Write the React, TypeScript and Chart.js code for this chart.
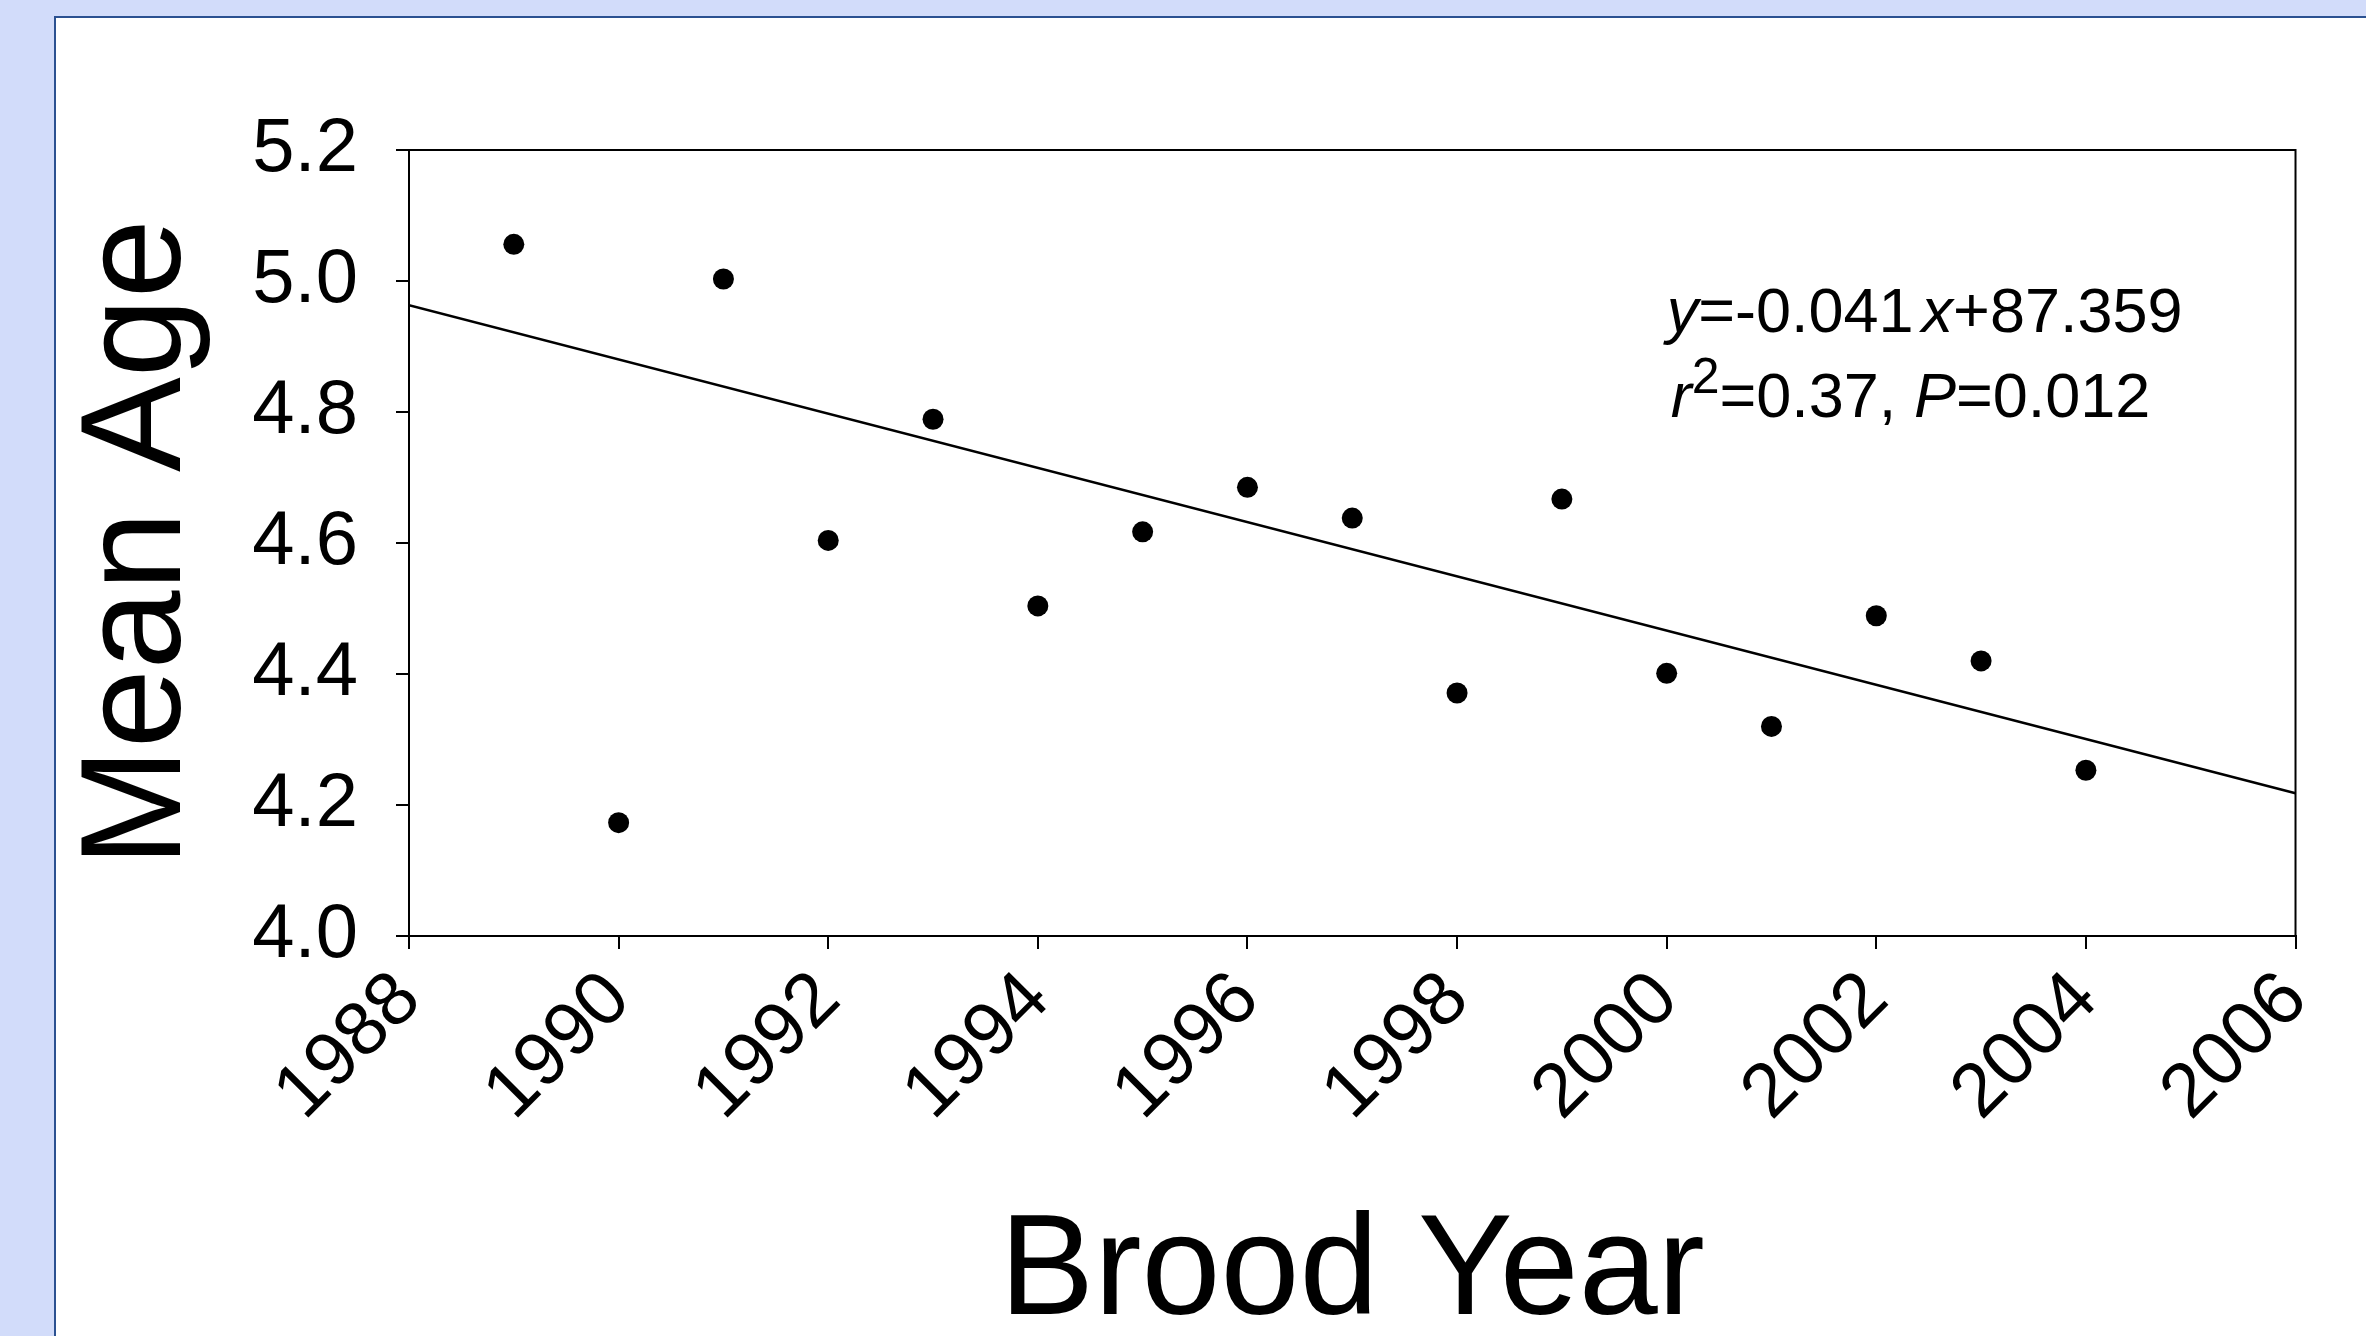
import React, { useEffect, useRef } from "react";
import { Chart, registerables } from "chart.js";

Chart.register(...registerables);

const FAMILY = '"Liberation Sans", Arial, Helvetica, sans-serif';

// ---- data ----
const broodYears = [1989, 1990, 1991, 1992, 1993, 1994, 1995, 1996, 1997, 1998, 1999, 2000, 2001, 2002, 2003, 2004];
const meanAge = [5.056, 4.173, 5.003, 4.604, 4.789, 4.504, 4.617, 4.685, 4.638, 4.371, 4.667, 4.401, 4.32, 4.489, 4.42, 4.253];
const trendYears = [1988, 2006];
const trendAge = [4.963, 4.218];
const xTickValues = [1988, 1990, 1992, 1994, 1996, 1998, 2000, 2002, 2004, 2006];
const yTickValues = [4.0, 4.2, 4.4, 4.6, 4.8, 5.0, 5.2];
const xTitle = "Brood Year";
const yTitle = "Mean Age";
const equationLine1 = [
  { text: "y", italic: true },
  { text: "=-0.041" },
  { text: "x", italic: true, gap: 8 },
  { text: "+87.359" },
];
const equationLine2 = [
  { text: "r", italic: true },
  { text: "2", small: true },
  { text: "=0.37, " },
  { text: "P", italic: true },
  { text: "=0.012" },
];

type Run = { text: string; italic?: boolean; small?: boolean; gap?: number };

function drawRuns(ctx: CanvasRenderingContext2D, runs: Run[], x0: number, y: number) {
  let x = x0;
  for (const r of runs) {
    const size = r.small ? 50 : 63;
    ctx.font = `${r.italic ? "italic " : ""}${size}px ${FAMILY}`;
    x += r.gap || 0;
    ctx.fillText(r.text, x, r.small ? y - 24 : y);
    x += ctx.measureText(r.text).width;
  }
}

const framePlugin = {
  id: "frameAndNote",
  afterDatasetsDraw(chart: any) {
    const { ctx, chartArea, scales } = chart;
    const { left, top, right, bottom } = chartArea;
    ctx.save();
    ctx.strokeStyle = "#000";
    ctx.lineWidth = 2;
    ctx.beginPath();
    ctx.moveTo(left, top);
    ctx.lineTo(right, top);
    ctx.lineTo(right, bottom);
    ctx.stroke();
    ctx.fillStyle = "#000";
    ctx.textBaseline = "alphabetic";
    ctx.textAlign = "left";
    const ax = scales.x.getPixelForValue(2000);
    drawRuns(ctx, equationLine1, ax, scales.y.getPixelForValue(4.922));
    drawRuns(ctx, equationLine2, ax + 4, scales.y.getPixelForValue(4.792));
    ctx.restore();
  },
};

function ChartCanvas() {
  const ref = useRef<HTMLCanvasElement | null>(null);
  useEffect(() => {
    if (!ref.current) return;
    Chart.defaults.font.family = FAMILY;
    Chart.defaults.color = "#000";
    const chart = new Chart(ref.current, {
      type: "scatter",
      data: {
        datasets: [
          {
            type: "line",
            label: "trend",
            data: trendYears.map((x, i) => ({ x, y: trendAge[i] })),
            borderColor: "#000",
            borderWidth: 2.5,
            pointRadius: 0,
            fill: false,
          } as any,
          {
            type: "scatter",
            label: "Mean Age",
            data: broodYears.map((x, i) => ({ x, y: meanAge[i] })),
            backgroundColor: "#000",
            borderColor: "#000",
            borderWidth: 0,
            pointRadius: 10.5,
          },
        ],
      },
      options: {
        animation: false,
        responsive: false,
        devicePixelRatio: 1,
        layout: { padding: { left: 0, top: 132, right: 69, bottom: 0 } },
        plugins: { legend: { display: false }, tooltip: { enabled: false } },
        scales: {
          x: {
            type: "linear",
            min: 1988,
            max: 2006,
            afterBuildTicks: (s: any) => {
              s.ticks = xTickValues.map((v) => ({ value: v }));
            },
            afterFit: (s: any) => {
              s.height = 400;
            },
            ticks: {
              autoSkip: false,
              minRotation: 45,
              maxRotation: 45,
              padding: 6,
              color: "#000",
              font: { size: 76, lineHeight: 1.2 },
              callback: (v: any) => String(v),
            },
            grid: { drawOnChartArea: false, drawTicks: true, tickLength: 13, color: "#000", lineWidth: 2 },
            border: { display: true, color: "#000", width: 2 },
            title: {
              display: true,
              text: xTitle,
              color: "#000",
              font: { size: 142, lineHeight: 0.8 },
              padding: { top: 0, bottom: 4 },
            },
          },
          y: {
            type: "linear",
            min: 4.0,
            max: 5.2,
            afterBuildTicks: (s: any) => {
              s.ticks = yTickValues.map((v) => ({ value: v }));
            },
            afterFit: (s: any) => {
              s.width = 353;
            },
            ticks: {
              padding: 38,
              color: "#000",
              font: { size: 76 },
              callback: (v: any) => Number(v).toFixed(1),
            },
            grid: { drawOnChartArea: false, drawTicks: true, tickLength: 13, color: "#000", lineWidth: 2 },
            border: { display: true, color: "#000", width: 2 },
            title: {
              display: true,
              text: yTitle,
              color: "#000",
              font: { size: 142, lineHeight: 1 },
              padding: { top: 14, bottom: 0 },
            },
          },
        },
      },
      plugins: [framePlugin],
    });
    return () => chart.destroy();
  }, []);
  return <canvas ref={ref} width={2310} height={1318} style={{ display: "block", width: 2310, height: 1318 }} />;
}

export default function App() {
  return (
    <div
      style={{
        position: "absolute",
        left: 0,
        top: 0,
        width: 2366,
        height: 1336,
        background: "#D2DCFA",
        overflow: "hidden",
      }}
    >
      <div
        style={{
          position: "absolute",
          left: 54,
          top: 16,
          width: 2312,
          height: 1320,
          boxSizing: "border-box",
          borderLeft: "2px solid #2B5191",
          borderTop: "2px solid #2B5191",
          background: "#fff",
        }}
      >
        <ChartCanvas />
      </div>
    </div>
  );
}
